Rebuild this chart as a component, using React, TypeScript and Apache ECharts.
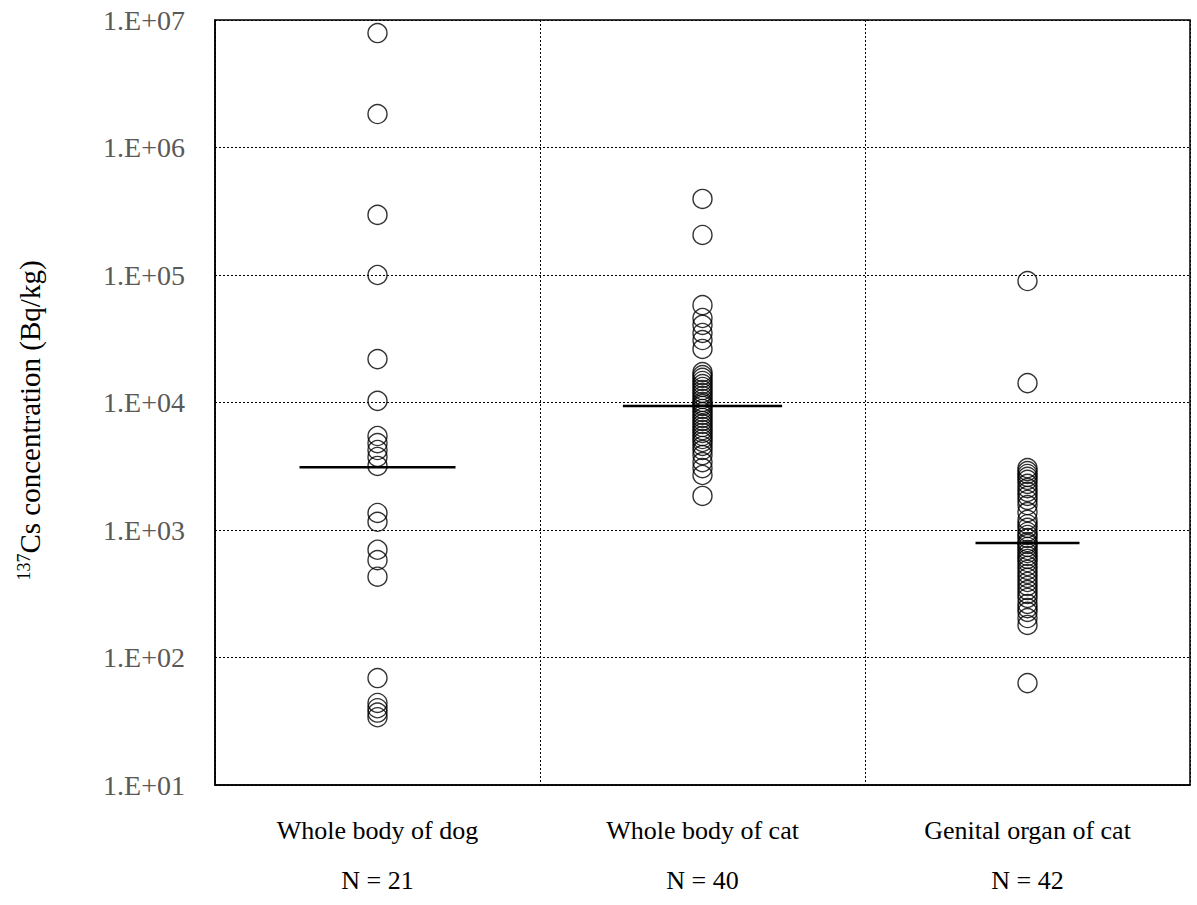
import React, { useEffect, useRef } from "react";
import * as echarts from "echarts";

const categories = ["Whole body of dog\nN = 21", "Whole body of cat\nN = 40", "Genital organ of cat\nN = 42"];

const dogValues = [
  7.9e6, 1.83e6, 2.96e5, 1.0e5, 2.19e4, 1.03e4,
  5460, 4800, 4240, 3740, 3180,
  1360, 1160, 700, 580, 430,
  69, 44, 40, 37, 34,
];

const catBodyValues = [
  3.95e5, 2.06e5,
  5.8e4, 4.6e4, 4.06e4, 3.51e4, 3.09e4, 2.63e4,
  17300, 16400, 15600, 14750, 13960, 13240, 12530, 11880, 11250, 10650,
  10090, 9730, 9390, 8900, 8420, 7980, 7560, 7160, 6780, 6420,
  6080, 5770, 5460, 5170, 4900, 4560, 4240, 3870,
  3410, 3060, 2700, 1850,
];

const catGenitalValues = [
  8.97e4, 1.42e4,
  3060, 2900, 2750, 2610, 2470, 2300, 2130, 1990, 1850, 1720,
  1570, 1380, 1200, 1110, 1040, 965, 914, 865, 805, 776,
  736, 697, 660, 625, 593, 561, 522, 486, 452, 421,
  391, 364, 338, 315, 293, 263, 244, 228, 204, 180,
  63,
];

const medians = [3100, 9400, 790];

const yTicks = [10, 100, 1000, 10000, 100000, 1000000, 10000000];

const medianHalfWidth = [0.24, 0.245, 0.16];

export default function App() {
  const ref = useRef<HTMLDivElement>(null);
  useEffect(() => {
    if (!ref.current) return;
    const chart = echarts.init(ref.current, null, { renderer: "svg" });
    const groups = [dogValues, catBodyValues, catGenitalValues];
    const scatterData: number[][] = [];
    groups.forEach((g, i) => g.forEach((v) => scatterData.push([i, v])));
    const medianData = medians.map((m, i) => [i, m]);
    const dotted = { type: [2, 2] as any, color: "#000", width: 1 };
    chart.setOption({
      animation: false,
      backgroundColor: "#fff",
      grid: {
        left: 215,
        right: 7,
        top: 20,
        bottom: 120,
        show: true,
        borderColor: "#000",
        borderWidth: 1.5,
        backgroundColor: "transparent",
      },
      xAxis: {
        type: "category",
        data: categories,
        boundaryGap: true,
        axisLine: { lineStyle: { color: "#000", width: 1.5 } },
        axisTick: { show: false },
        splitLine: { show: true, interval: 0, lineStyle: dotted },
        axisLabel: {
          interval: 0,
          margin: 20,
          color: "#000",
          fontFamily: "Liberation Serif",
          fontSize: 26,
          lineHeight: 50,
        },
      },
      yAxis: {
        type: "log",
        logBase: 10,
        min: yTicks[0],
        max: yTicks[yTicks.length - 1],
        axisLine: { show: true, lineStyle: { color: "#000", width: 1.5 } },
        axisTick: { show: false },
        splitLine: { show: true, lineStyle: dotted },
        axisLabel: {
          margin: 30,
          color: "#595959",
          fontFamily: "Liberation Serif",
          fontSize: 28,
          formatter: (v: number) => {
            const e = Math.round(Math.log10(v));
            return "1.E+" + String(e).padStart(2, "0");
          },
        },
        name: "{sup|137}Cs concentration (Bq/kg)",
        nameLocation: "middle",
        nameGap: 170,
        nameRotate: 90,
        nameTextStyle: {
          color: "#000",
          fontFamily: "Liberation Serif",
          fontSize: 29,
          padding: [0, 36, 0, 0],
          rich: {
            sup: {
              fontFamily: "Liberation Serif",
              fontSize: 18,
              color: "#000",
              verticalAlign: "top",
              padding: [0, 0, 12, 0],
            },
          },
        },
      },
      series: [
        {
          type: "scatter",
          data: scatterData,
          symbol: "circle",
          symbolSize: 19,
          itemStyle: { color: "rgba(0,0,0,0)", borderColor: "#000", borderWidth: 1.4 },
          z: 3,
        },
        {
          type: "custom",
          data: medianData,
          z: 4,
          renderItem: (params: any, api: any) => {
            const idx = api.value(0);
            const p = api.coord([idx, api.value(1)]);
            const bw = api.size([1, 0])[0];
            const hw = bw * medianHalfWidth[params.dataIndex];
            return {
              type: "line",
              shape: { x1: p[0] - hw, y1: p[1], x2: p[0] + hw, y2: p[1] },
              style: { stroke: "#000", lineWidth: 2.5 },
            };
          },
        },
      ],
    });
    return () => chart.dispose();
  }, []);
  return (
    <div
      ref={ref}
      style={{ position: "absolute", left: 0, top: 0, width: 1197, height: 905 }}
    />
  );
}
